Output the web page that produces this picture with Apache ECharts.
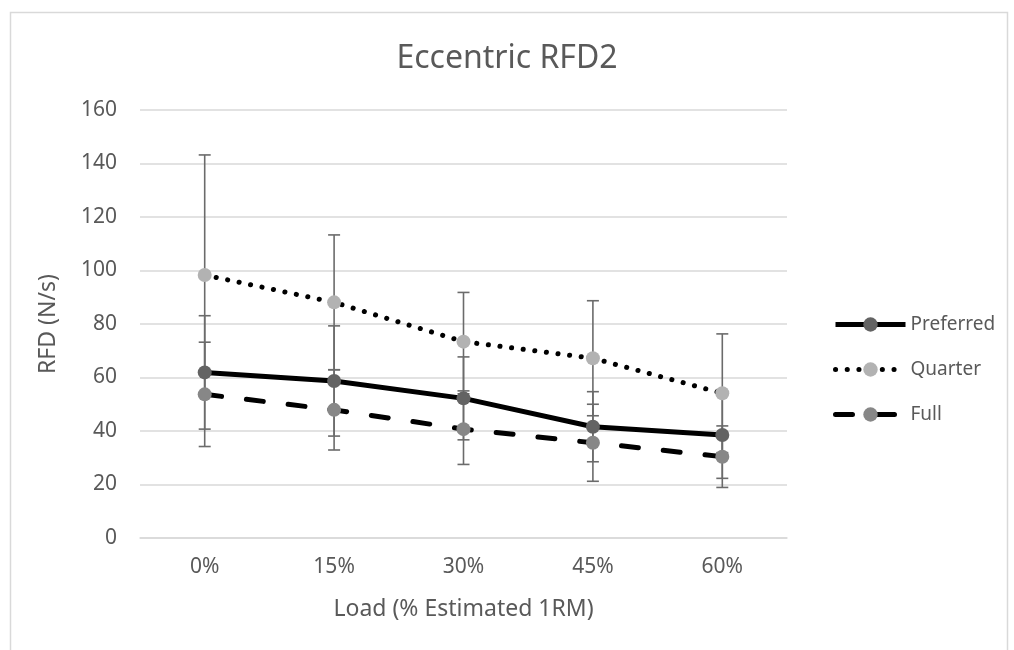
<!DOCTYPE html>
<html>
<head>
<meta charset="utf-8">
<script src="https://cdn.jsdelivr.net/npm/echarts@6/dist/echarts.min.js"></script>
<style>
  html, body { margin: 0; padding: 0; background: #fff; }
  #main { width: 1014px; height: 650px; }
</style>
</head>
<body>
<div id="main"></div>
<script>
var categories = ['0%', '15%', '30%', '45%', '60%'];
var yTicks = [0, 20, 40, 60, 80, 100, 120, 140, 160];

var preferred = [61.9, 58.7, 52.2, 41.6, 38.5];
var quarter = [98.3, 88.1, 73.4, 67.2, 54.1];
var full = [53.7, 47.9, 40.7, 35.6, 30.4];

var preferredErr = [21.2, 20.6, 15.5, 13.1, 16.2];
var quarterErr = [44.9, 25.2, 18.4, 21.5, 22.2];
var fullErr = [19.5, 15.0, 13.2, 14.4, 11.5];

var font = "'Noto Sans', 'Open Sans', sans-serif";
var txt = '#595959';

function errData(vals, errs) {
  var out = [];
  for (var i = 0; i < vals.length; i++) {
    out.push([i, vals[i] - errs[i], vals[i] + errs[i]]);
  }
  return out;
}

function renderErr(params, api) {
  var x = api.value(0);
  var lo = api.coord([x, api.value(1)]);
  var hi = api.coord([x, api.value(2)]);
  var cap = 6;
  var st = { stroke: '#6b6b6b', lineWidth: 1.6 };
  return {
    type: 'group',
    children: [
      { type: 'line', shape: { x1: lo[0], y1: lo[1], x2: hi[0], y2: hi[1] }, style: st },
      { type: 'line', shape: { x1: lo[0] - cap, y1: lo[1], x2: lo[0] + cap, y2: lo[1] }, style: st },
      { type: 'line', shape: { x1: hi[0] - cap, y1: hi[1], x2: hi[0] + cap, y2: hi[1] }, style: st }
    ]
  };
}

function errSeries(vals, errs) {
  return {
    type: 'custom',
    renderItem: renderErr,
    encode: { x: 0, y: [1, 2] },
    data: errData(vals, errs),
    silent: true,
    z: 1
  };
}

var chart = echarts.init(document.getElementById('main'));
var option = {
  animation: false,
  backgroundColor: '#fff',
  graphic: [{
    type: 'rect',
    left: 8, top: 10,
    shape: { width: 997, height: 660 },
    style: { fill: 'none', stroke: '#d9d9d9', lineWidth: 1.5 },
    silent: true
  }],
  title: {
    text: 'Eccentric RFD2',
    left: 'center',
    top: 38,
    textStyle: { color: txt, fontSize: 32, fontWeight: 'normal', fontFamily: font }
  },
  legend: {
    orient: 'vertical',
    left: 828,
    top: 310,
    itemWidth: 70,
    itemHeight: 18,
    itemGap: 26,
    lineStyle: { width: 5 },
    textStyle: { color: txt, fontSize: 19, fontFamily: font },
    data: ['Preferred', 'Quarter', 'Full']
  },
  grid: { left: 140, right: 227, top: 110, bottom: 112 },
  xAxis: {
    type: 'category',
    data: categories,
    name: 'Load (% Estimated 1RM)',
    nameLocation: 'middle',
    nameGap: 60,
    nameTextStyle: { color: txt, fontSize: 23, fontFamily: font },
    axisLine: { lineStyle: { color: '#d9d9d9', width: 1.5 } },
    axisTick: { show: false },
    axisLabel: { color: txt, fontSize: 21, fontFamily: font, margin: 19 }
  },
  yAxis: {
    type: 'value',
    min: yTicks[0],
    max: yTicks[yTicks.length - 1],
    interval: 20,
    name: 'RFD (N/s)',
    nameLocation: 'middle',
    nameGap: 80,
    nameTextStyle: { color: txt, fontSize: 23, fontFamily: font },
    axisLine: { show: false },
    axisTick: { show: false },
    splitLine: { lineStyle: { color: '#d9d9d9', width: 1.5 } },
    axisLabel: { color: txt, fontSize: 21, fontFamily: font, margin: 23 }
  },
  series: [
    {
      name: 'Preferred',
      type: 'line',
      data: preferred,
      symbol: 'circle',
      symbolSize: 14,
      z: 3,
      lineStyle: { color: '#000', width: 5, type: 'solid' },
      itemStyle: { color: '#636363' }
    },
    {
      name: 'Quarter',
      type: 'line',
      data: quarter,
      symbol: 'circle',
      symbolSize: 14,
      z: 3,
      lineStyle: { color: '#000', width: 5, type: [0.1, 11.6], cap: 'round' },
      itemStyle: { color: '#b2b2b2' }
    },
    {
      name: 'Full',
      type: 'line',
      data: full,
      symbol: 'circle',
      symbolSize: 14,
      z: 3,
      lineStyle: { color: '#000', width: 5, type: [17, 25], cap: 'round' },
      itemStyle: { color: '#878787' }
    },
    errSeries(preferred, preferredErr),
    errSeries(quarter, quarterErr),
    errSeries(full, fullErr)
  ]
};
chart.setOption(option);
</script>
</body>
</html>
